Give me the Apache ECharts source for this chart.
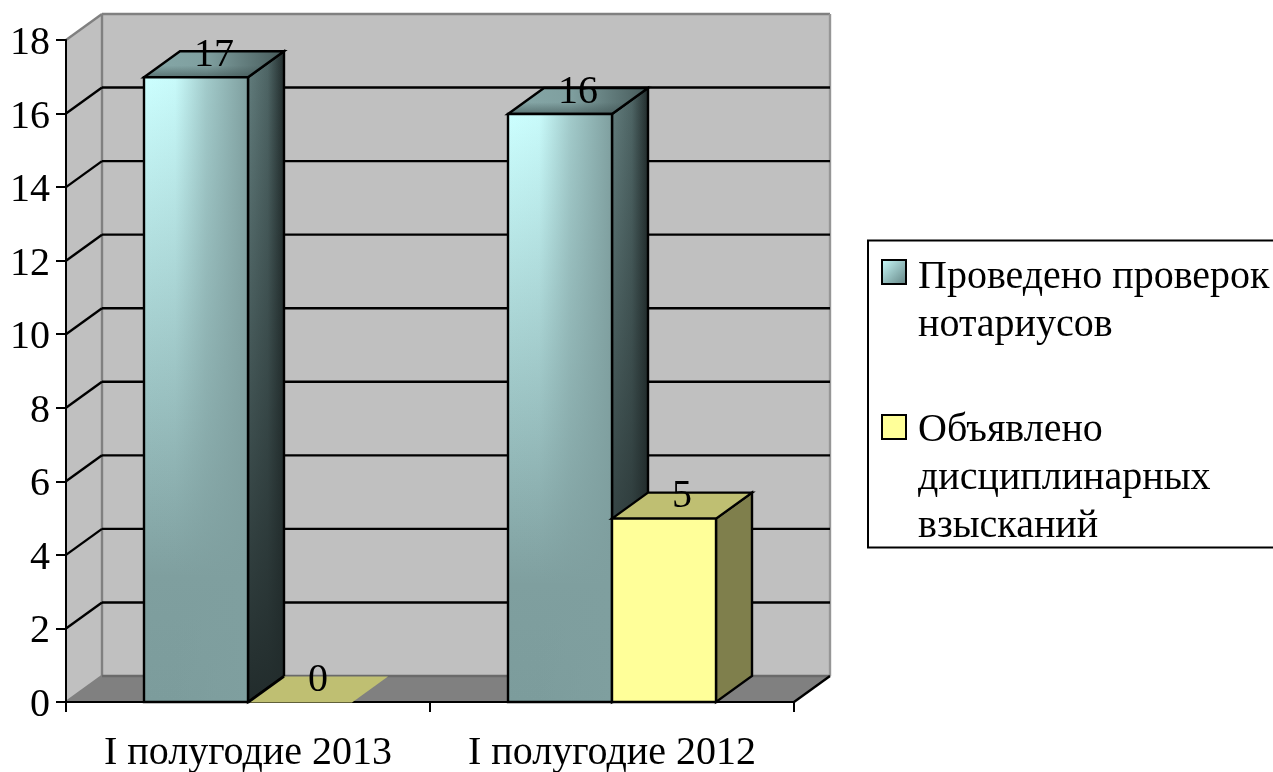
<!DOCTYPE html>
<html><head><meta charset="utf-8">
<style>html,body{margin:0;padding:0;background:#fff}#c{width:1273px;height:772px}</style>
<script src="https://cdn.jsdelivr.net/npm/echarts@6/dist/echarts.min.js"></script>
</head><body><div id="c"></div>
<script>
const categories = ['I полугодие 2013', 'I полугодие 2012'];
const checksDone = [17, 16];
const penalties = [0, 5];
const yTicks = [0, 2, 4, 6, 8, 10, 12, 14, 16, 18];
const seriesNames = ['Проведено проверок нотариусов', 'Объявлено дисциплинарных взысканий'];
const legendLines = [['Проведено проверок', 'нотариусов'], ['Объявлено', 'дисциплинарных', 'взысканий']];

const DX = 36, DY = -26, BAR_FRAC = 104 / 364;
const FONT = '"Liberation Serif","Times New Roman",serif';
const FS = 40;
const LW = 2.4;
const G = echarts.graphic;
const vert = (stops) => new G.LinearGradient(0, 0, 0, 1, stops.map(s => ({offset: s[0], color: s[1]})));
const hor = stops => new G.LinearGradient(0, 0, 1, 0, stops.map(s => ({offset: s[0], color: s[1]})));
const poly = (points, style, z2) => ({type: 'polygon', z2: z2 || 0, shape: {points}, style});
const seg = (a, b, color, w) => ({type: 'line', shape: {x1: a[0], y1: a[1], x2: b[0], y2: b[1]}, style: {stroke: color, lineWidth: w || LW}});

function renderFrame(params, api) {
  const band = api.size([1, 0])[0];
  const o = api.coord([0, 0]); const t = api.coord([0, 18]);
  const x0 = o[0] - band / 2, x1 = x0 + band * 2, y0 = o[1], y1 = t[1];
  const kids = [
    poly([[x0 + DX, y1 + DY], [x1 + DX, y1 + DY], [x1 + DX, y0 + DY], [x0 + DX, y0 + DY]], {fill: '#c0c0c0'}),
    poly([[x0, y1], [x0 + DX, y1 + DY], [x0 + DX, y0 + DY], [x0, y0]], {fill: '#c0c0c0'}),
    poly([[x0, y0], [x0 + DX, y0 + DY], [x1 + DX, y0 + DY], [x1, y0]], {fill: '#808080'}),
    seg([x0, y1], [x0 + DX, y1 + DY], '#808080', LW),
    seg([x0 + DX, y1 + DY], [x1 + DX, y1 + DY], '#808080', LW),
    seg([x0 + DX, y1 + DY], [x0 + DX, y0 + DY], '#808080', LW),
    seg([x1 + DX, y1 + DY], [x1 + DX, y0 + DY], '#969696', LW),
    seg([x0, y0], [x0 + DX, y0 + DY], '#808080', LW),
    seg([x0 + DX, y0 + DY], [x1 + DX, y0 + DY], '#6a6a6a', LW),
    seg([x1, y0], [x1 + DX, y0 + DY], '#000', LW)
  ];
  yTicks.forEach(v => {
    if (v === 0 || v === 18) return;
    const y = api.coord([0, v])[1];
    kids.push(seg([x0, y], [x0 + DX, y + DY], '#000', LW));
    kids.push(seg([x0 + DX, y + DY], [x1 + DX, y + DY], '#000', LW));
  });
  return {type: 'group', children: kids};
}

function makeBar(offset, tall) {
  return function (params, api) {
    const c = api.coord([api.value(0), api.value(1)]);
    const b = api.coord([api.value(0), 0]);
    const w = api.size([1, 0])[0] * BAR_FRAC;
    const xl = c[0] + offset * w, xr = xl + w, yt = c[1] + 0.5, yb = b[1];
    const ln = {stroke: '#000', lineWidth: LW, lineJoin: 'miter'};
    const none = {stroke: null};
    const front = [[xl, yt], [xr, yt], [xr, yb], [xl, yb]];
    const side = [[xr, yt], [xr + DX, yt + DY], [xr + DX, yb + DY], [xr, yb]];
    const top = [[xl, yt], [xl + DX, yt + DY], [xr + DX, yt + DY], [xr, yt]];
    const kids = [];
    const value = api.value(1);
    if (tall) {
      kids.push(poly(side, Object.assign({fill: hor([[0, '#647f7f'], [0.55, '#4f6666'], [1, '#222c2c']])}, none)));
      kids.push(poly(side, Object.assign({fill: vert([[0, 'rgba(34,44,44,0)'], [1, 'rgba(34,44,44,1)']])}, none)));
      kids.push(poly(side, Object.assign({fill: 'none'}, ln)));
      kids.push(poly(top, Object.assign({fill: hor([[0, '#86a8a8'], [0.45, '#7f9f9f'], [1, '#465a5a']])}, none)));
      kids.push(poly(top, Object.assign({fill: vert([[0, 'rgba(60,80,80,0)'], [0.55, 'rgba(60,80,80,0)'], [1, 'rgba(60,80,80,0.6)']])}, none)));
      kids.push(poly(top, Object.assign({fill: 'none'}, ln)));
      kids.push(poly(front, Object.assign({fill: vert([[0, '#ccffff'], [0.8, '#7f9f9f'], [1, '#7c9c9c']])}, none)));
      kids.push(poly(front, Object.assign({fill: hor([[0, 'rgba(127,159,159,0)'], [0.3, 'rgba(127,159,159,0.05)'], [0.6, 'rgba(127,159,159,0.55)'], [1, 'rgba(127,159,159,1)']])}, none)));
      kids.push(poly(front, Object.assign({fill: 'none'}, ln)));
    } else if (value > 0) {
      kids.push(poly(side, Object.assign({fill: '#7f7f4c'}, ln)));
      kids.push(poly(top, Object.assign({fill: '#bfbf72'}, ln)));
      kids.push(poly(front, Object.assign({fill: '#ffff99'}, ln)));
    } else {
      kids.push(poly(top, {fill: '#bfbf72', stroke: null}));
      kids.push(seg([xl, yt], [xl + DX, yt + DY], '#000', LW));
    }
    kids.push({type: 'text', z2: 5, style: {
      text: String(value), x: (xl + xr) / 2 + DX / 2, y: yt + DY / 2 - 9,
      font: FS + 'px ' + FONT, fill: '#000', align: 'center', verticalAlign: 'middle'
    }});
    return {type: 'group', children: kids};
  };
}

const legendGraphics = [];
const boxes = [{sy: 260, ty: 277, c: new G.LinearGradient(0, 0, 1, 1, [{offset: 0, color: '#ccffff'}, {offset: 1, color: '#5f7f7f'}])},
               {sy: 415, ty: 430, c: '#ffff99'}];
legendGraphics.push({type: 'rect', shape: {x: 868, y: 240.5, width: 440, height: 307}, style: {fill: '#fff', stroke: '#000', lineWidth: 2}});
boxes.forEach((b, i) => {
  legendGraphics.push({type: 'rect', shape: {x: 882, y: b.sy, width: 24, height: 24}, style: {fill: b.c, stroke: '#000', lineWidth: 2}});
  legendLines[i].forEach((t, j) => legendGraphics.push({type: 'text', style: {
    text: t, x: 918, y: b.ty + j * 48, font: FS + 'px ' + FONT, fill: '#000', align: 'left', verticalAlign: 'middle'
  }}));
});

const chart = echarts.init(document.getElementById('c'), null, {renderer: 'canvas'});
chart.setOption({
  animation: false,
  backgroundColor: '#fff',
  grid: {left: 66, top: 40, width: 728, height: 662, outerBoundsMode: 'none'},
  xAxis: {type: 'category', data: categories, boundaryGap: true,
    axisLine: {lineStyle: {color: '#000', width: 2}},
    axisTick: {show: true, length: 10, alignWithLabel: false, lineStyle: {color: '#000', width: 2}},
    axisLabel: {color: '#000', fontFamily: FONT, fontSize: FS, margin: 31, interval: 0},
    splitLine: {show: false}},
  yAxis: {type: 'value', min: 0, max: 18, interval: 2,
    axisLine: {show: true, lineStyle: {color: '#000', width: 2}},
    axisTick: {show: true, length: 10, lineStyle: {color: '#000', width: 2}},
    axisLabel: {color: '#000', fontFamily: FONT, fontSize: FS, margin: 16, verticalAlign: 'top', lineHeight: 7},
    splitLine: {show: false}},
  graphic: {elements: legendGraphics},
  series: [
    {type: 'custom', name: 'frame', z: -1, silent: true, clip: false, renderItem: renderFrame, data: [[0, 0]], encode: {x: 0, y: 1}},
    {type: 'custom', name: seriesNames[0], z: 3, clip: false, renderItem: makeBar(-1, true),
      data: checksDone.map((v, i) => [i, v]), encode: {x: 0, y: 1}},
    {type: 'custom', name: seriesNames[1], z: 4, clip: false, renderItem: makeBar(0, false),
      data: penalties.map((v, i) => [i, v]), encode: {x: 0, y: 1}}
  ]
});
</script></body></html>
